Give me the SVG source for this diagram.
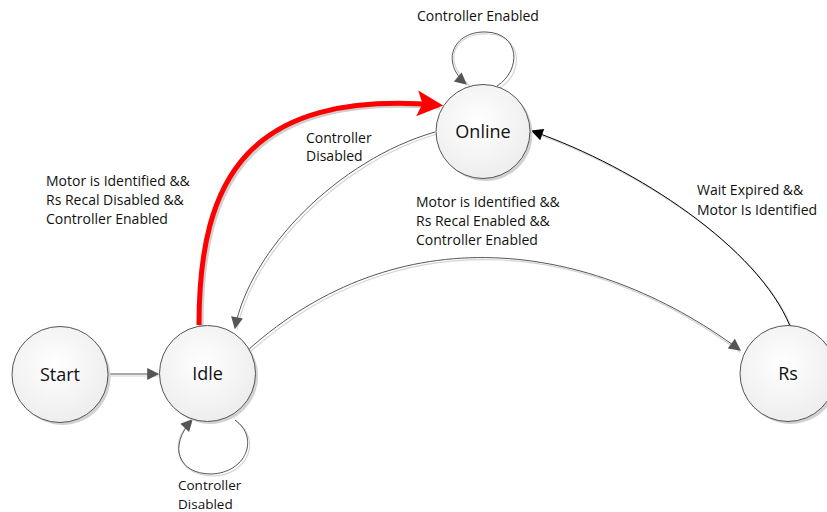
<svg xmlns="http://www.w3.org/2000/svg" width="827" height="512" viewBox="0 0 827 512">
<style>
.node{fill:url(#g);stroke:#555;stroke-width:1}
.shadow{fill:#d2d2d2}
.nl{font-family:"Open Sans","Liberation Sans",sans-serif;font-size:18px;fill:#111;text-anchor:middle}
.lb{font-family:"Open Sans","Liberation Sans",sans-serif;font-size:14px;fill:#111}
.c{fill:none;stroke:#555;stroke-width:1}
.cs{fill:none;stroke:#d4d4d4;stroke-width:1.2}
</style>
<defs>
<radialGradient id="g" cx="0.45" cy="0.4" r="0.65">
<stop offset="0" stop-color="#ffffff"/>
<stop offset="1" stop-color="#ececec"/>
</radialGradient>
<marker id="ag" viewBox="0 0 10 10" refX="9" refY="5" markerWidth="14" markerHeight="12" markerUnits="userSpaceOnUse" orient="auto">
<path d="M0,0 L10,5 L0,10 z" fill="#555"/>
</marker>
<marker id="ak" viewBox="0 0 10 10" refX="9" refY="5" markerWidth="14" markerHeight="12" markerUnits="userSpaceOnUse" orient="auto">
<path d="M0,0 L10,5 L0,10 z" fill="#000"/>
</marker>
<marker id="ar" viewBox="0 0 10 10" refX="8" refY="5" markerWidth="28" markerHeight="26" markerUnits="userSpaceOnUse" orient="auto">
<path d="M0,0 L10,5 L0,10 L2,5 z" fill="#f00"/>
</marker>
</defs>

<g id="connectors">
<path class="cs" d="M110,376 L159,376"/>
<path class="cs" d="M437,134 C340,162 252,252 237,330"/>
<path class="cs" d="M250,352 C400,218 590,240 740,352"/>
<path class="cs" d="M792,328 C760,250 640,170 534,133"/>
<path class="cs" d="M237,422 C262,440 248,475 213,476 C180,476 170,448 185,428"/>
<path class="cs" d="M470,86 C440,60 455,32 488,34 C522,35 525,72 500,88"/>
<path d="M201,327 C201,180 250,92 440,107" fill="none" stroke="#d0d0d0" stroke-width="5"/>
<path class="c" d="M108,374 L158,374" marker-end="url(#ag)"/>
<path class="c" d="M435,132 C338,160 250,250 235,328" marker-end="url(#ag)"/>
<path class="c" d="M248,350 C398,216 588,238 740,350" marker-end="url(#ag)"/>
<path d="M790,326 C758,248 638,168 532,131" fill="none" stroke="#000" stroke-width="1" marker-end="url(#ak)"/>
<path class="c" d="M235,420 C260,438 246,473 211,474 C178,474 168,446 192,420" marker-end="url(#ag)"/>
<path class="c" d="M497,86 C522,70 520,33 486,32 C453,31 440,62 466,84" marker-end="url(#ag)"/>
<path d="M199,325 C199,178 248,90 438,105" fill="none" stroke="#f00" stroke-width="5" marker-end="url(#ar)"/>
</g>

<g id="node-start">
<circle class="shadow" cx="62.5" cy="377" r="48"/>
<circle class="node" cx="60" cy="374.5" r="48"/>
<text class="nl" x="60" y="381">Start</text>
</g>
<g id="node-idle">
<circle class="shadow" cx="210" cy="376" r="48"/>
<circle class="node" cx="207.5" cy="373.5" r="48"/>
<text class="nl" x="207.5" y="380">Idle</text>
</g>
<g id="node-online">
<circle class="shadow" cx="485.5" cy="134" r="47"/>
<circle class="node" cx="483" cy="131.5" r="47"/>
<text class="nl" x="483" y="138">Online</text>
</g>
<g id="node-rs">
<circle class="shadow" cx="790.5" cy="376" r="48"/>
<circle class="node" cx="788" cy="373.5" r="48"/>
<text class="nl" x="788" y="380">Rs</text>
</g>

<g id="labels">
<text class="lb" x="417" y="21">Controller Enabled</text>
<text class="lb" x="306" y="143">Controller</text>
<text class="lb" x="306" y="161">Disabled</text>
<text class="lb" x="46" y="186">Motor is Identified &amp;&amp;</text>
<text class="lb" x="46" y="205">Rs Recal Disabled &amp;&amp;</text>
<text class="lb" x="46" y="224">Controller Enabled</text>
<text class="lb" x="416" y="207">Motor is Identified &amp;&amp;</text>
<text class="lb" x="416" y="226">Rs Recal Enabled &amp;&amp;</text>
<text class="lb" x="416" y="245">Controller Enabled</text>
<text class="lb" x="697" y="195">Wait Expired &amp;&amp;</text>
<text class="lb" x="697" y="215">Motor Is Identified</text>
<text class="lb" x="178" y="490" style="font-size:13.5px">Controller</text>
<text class="lb" x="178" y="509" style="font-size:13.5px">Disabled</text>
</g>
</svg>
